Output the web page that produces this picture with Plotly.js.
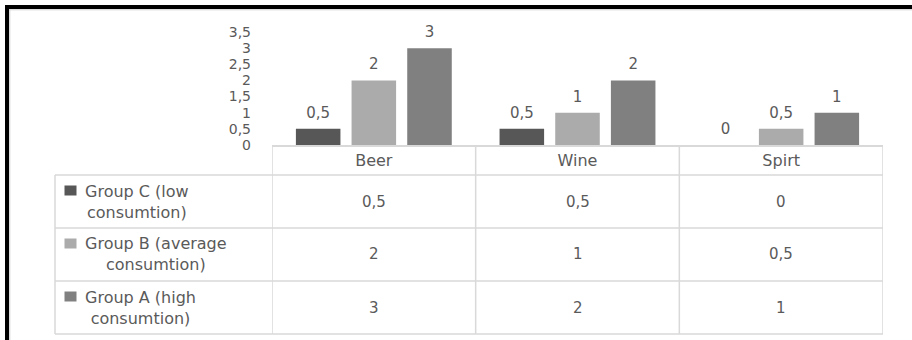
<!DOCTYPE html>
<html>
<head>
<meta charset="utf-8">
<script src="https://cdn.plot.ly/plotly-3.0.1.min.js"></script>
<style>
  html, body { margin: 0; padding: 0; background: #ffffff; }
  #chart { width: 912px; height: 340px; }
</style>
</head>
<body>
<div id="chart"></div>
<script>
// Alcohol consumption by group and drink type
const categories = ['Beer', 'Wine', 'Spirt'];
const seriesNames = [
  'Group C (low<br>consumtion)',
  'Group B (average<br>consumtion)',
  'Group A (high<br>consumtion)'
];
const groupC = [0.5, 0.5, 0];
const groupB = [2, 1, 0.5];
const groupA = [3, 2, 1];
const yTickValues = [0, 0.5, 1, 1.5, 2, 2.5, 3, 3.5];

const seriesValues = [groupC, groupB, groupA];
const seriesColors = ['#575757', '#ababab', '#808080'];

const FONT = 'DejaVu Sans';
const TEXT = '#5a5a5a';
const GRID = '#d9d9d9';

// page geometry (pixels) and helpers converting pixels to paper fractions
const W = 912, H = 340;
const M = { l: 272, r: 29, t: 32, b: 6 };
const plotW = W - M.l - M.r;
const plotH = H - M.t - M.b;
const px = x => (x - M.l) / plotW;
const py = y => (H - M.b - y) / plotH;

// decimal comma formatting
const fmt = v => String(v).replace('.', ',');

// table row boundaries (pixels): header top, then three body rows
const rowEdges = [145, 175, 228, 281, 334];
const tableLeft = 55;

const traces = [];
seriesValues.forEach((vals, i) => {
  traces.push({
    type: 'bar',
    x: categories,
    y: vals,
    name: seriesNames[i],
    marker: { color: seriesColors[i], line: { width: 0 } },
    offsetgroup: 'g' + i,
    hoverinfo: 'skip',
    showlegend: false
  });
});
// value labels above each bar
seriesValues.forEach((vals, i) => {
  traces.push({
    type: 'scatter',
    mode: 'markers+text',
    x: categories,
    y: vals,
    text: vals.map(fmt),
    textposition: 'top center',
    textfont: { family: FONT, size: 15, color: TEXT },
    marker: { size: 10, opacity: 0 },
    offsetgroup: 'g' + i,
    cliponaxis: false,
    hoverinfo: 'skip',
    showlegend: false
  });
});

const shapes = [];
const annotations = [];

// vertical table lines at category boundaries
[-0.5, 0.5, 1.5, 2.5].forEach(b => {
  shapes.push({
    type: 'line', xref: 'x', yref: 'paper',
    x0: b, x1: b, y0: py(rowEdges[0]), y1: 0,
    line: { color: GRID, width: 1.5 }
  });
});
// left border of the legend column
shapes.push({
  type: 'line', xref: 'paper', yref: 'paper',
  x0: px(tableLeft), x1: px(tableLeft), y0: py(rowEdges[1]), y1: 0,
  line: { color: GRID, width: 1.5 }
});
// horizontal row lines
rowEdges.slice(1).forEach(e => {
  shapes.push({
    type: 'line', xref: 'paper', yref: 'paper',
    x0: px(tableLeft), x1: 1, y0: py(e), y1: py(e),
    line: { color: GRID, width: 1.5 }
  });
});

// table body: legend keys, series names and values
seriesValues.forEach((vals, i) => {
  const centerPx = (rowEdges[i + 1] + rowEdges[i + 2]) / 2;
  const cy = py(centerPx);
  vals.forEach((v, j) => {
    annotations.push({
      xref: 'x', yref: 'paper', x: categories[j], y: cy,
      xanchor: 'center', yanchor: 'middle',
      text: fmt(v), showarrow: false,
      font: { family: FONT, size: 15, color: TEXT }
    });
  });
  annotations.push({
    xref: 'paper', yref: 'paper', x: px(83), y: cy,
    xanchor: 'left', yanchor: 'middle', align: 'center',
    text: seriesNames[i], showarrow: false,
    font: { family: FONT, size: 16, color: TEXT }
  });
  shapes.push({
    type: 'rect', xref: 'paper', yref: 'paper',
    xsizemode: 'pixel', ysizemode: 'pixel',
    xanchor: px(70.5), yanchor: py(centerPx - 11),
    x0: -6, x1: 6, y0: -5, y1: 5,
    fillcolor: seriesColors[i], line: { width: 0 }
  });
});

// black frame along the top and left edges, with a faint inner line
shapes.push(
  { type: 'rect', xref: 'paper', yref: 'paper', layer: 'above',
    x0: px(5), x1: px(W + 5), y0: py(9), y1: py(5),
    fillcolor: '#000000', line: { width: 0 } },
  { type: 'rect', xref: 'paper', yref: 'paper', layer: 'above',
    x0: px(5), x1: px(9), y0: py(H + 5), y1: py(5),
    fillcolor: '#000000', line: { width: 0 } },
  { type: 'line', xref: 'paper', yref: 'paper',
    x0: px(9), x1: px(W + 5), y0: py(9.8), y1: py(9.8),
    line: { color: '#cfcfcf', width: 1 } },
  { type: 'line', xref: 'paper', yref: 'paper',
    x0: px(9.8), x1: px(9.8), y0: py(H + 5), y1: py(9.8),
    line: { color: '#cfcfcf', width: 1 } }
);

const layout = {
  width: W,
  height: H,
  margin: M,
  paper_bgcolor: '#ffffff',
  plot_bgcolor: '#ffffff',
  showlegend: false,
  barmode: 'group',
  bargap: 0.18,
  bargroupgap: 0.2,
  scattermode: 'group',
  scattergap: 0.18,
  separators: ', ',
  xaxis: {
    type: 'category',
    range: [-0.5, 2.5],
    showline: true,
    linecolor: GRID,
    linewidth: 1.5,
    showgrid: false,
    zeroline: false,
    ticks: '',
    ticklabelstandoff: 0,
    tickfont: { family: FONT, size: 16, color: TEXT },
    fixedrange: true
  },
  yaxis: {
    domain: [py(rowEdges[0]), 1],
    range: [0, 3.5],
    tickvals: yTickValues,
    ticktext: yTickValues.map(fmt),
    showgrid: false,
    zeroline: false,
    showline: false,
    ticks: '',
    ticklabelstandoff: 20,
    tickfont: { family: FONT, size: 14, color: TEXT },
    fixedrange: true
  },
  shapes: shapes,
  annotations: annotations
};

Plotly.newPlot('chart', traces, layout, { displayModeBar: false, staticPlot: true });
</script>
</body>
</html>
